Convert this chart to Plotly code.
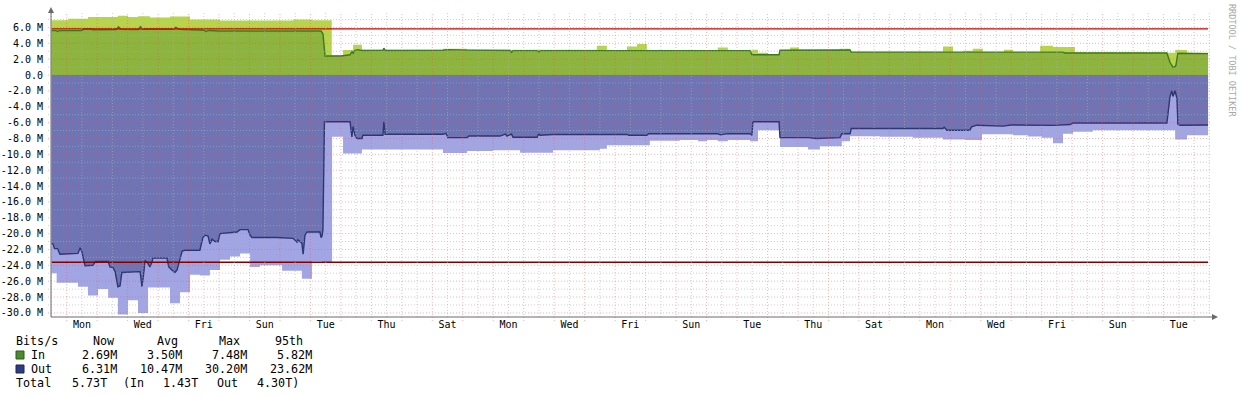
import plotly.graph_objects as go

# ---------------- data (time = days since the first Monday 00:00) ----------------
in_max_t = [-0.50, 0.04, 0.70, 1.68, 2.01, 2.34, 2.73, 3.39, 4.05, 5.03, 7.43, 8.05, 8.70, 9.07,
            9.40, 9.69, 12.35, 13.14, 17.40, 17.73, 18.39, 18.72, 19.04, 21.37, 21.70, 22.43,
            22.52, 22.69, 23.01, 23.41, 23.74, 24.03, 25.38, 25.71, 28.76, 29.09, 29.41, 29.74,
            30.07, 30.76, 31.06, 31.95, 32.37, 33.09, 36.11, 36.38, 36.77, 37.46]
in_max_v = [6.92, 7.09, 7.30, 7.48, 7.30, 7.42, 7.25, 7.38, 7.00, 6.87, 7.00, 6.90, 2.50, 3.16,
            3.80, 3.20, 3.30, 3.18, 3.70, 3.15, 3.58, 3.90, 3.12, 3.46, 3.12, 3.10,
            3.20, 2.80, 2.58, 3.16, 3.46, 3.18, 3.30, 2.92, 3.58, 2.90, 3.05, 3.30,
            2.88, 3.20, 2.90, 3.70, 3.54, 2.88, 2.80, 3.16, 2.82, 2.82]

in_avg_t = [-0.50, -0.35, -0.30, -0.25, 0.50, 0.56, 0.80, 0.86, 1.62, 1.70, 1.78, 2.36, 2.42,
            2.50, 3.50, 3.58, 3.70, 4.50, 4.56, 4.66, 5.03, 8.35, 8.41, 8.48, 9.00, 9.30, 9.36,
            9.40, 9.46, 9.53, 9.69, 10.38, 10.41, 10.45, 12.35, 12.50, 13.14, 14.55, 14.60,
            14.65, 15.44, 15.50, 15.56, 22.43, 22.49, 23.38, 23.41, 25.71, 25.75, 28.43, 28.76,
            30.30, 31.51, 32.70, 32.76, 36.11, 36.21, 36.31, 36.40, 36.47, 37.46]
in_avg_v = [5.60, 5.60, 5.50, 5.60, 5.62, 5.82, 5.80, 5.70, 5.72, 6.08, 5.75, 5.72, 6.10,
            5.78, 5.78, 6.02, 5.75, 5.65, 5.50, 5.62, 5.55, 5.55, 5.20, 2.40, 2.40, 2.55, 2.95,
            2.75, 3.10, 3.20, 3.10, 3.12, 3.38, 3.10, 3.12, 3.20, 3.14, 3.10, 2.85,
            3.08, 3.08, 2.90, 3.08, 3.08, 2.55, 2.55, 3.12, 3.15, 2.88, 2.88, 2.85,
            2.80, 2.88, 2.88, 2.78, 2.78, 1.60, 1.00, 1.10, 2.75, 2.70]

out_max_t = [-0.50, -0.33, 0.37, 0.70, 1.03, 1.36, 1.68, 2.01, 2.34, 2.67, 3.39, 3.72, 4.05,
             4.37, 4.70, 5.03, 5.36, 5.69, 6.02, 6.34, 7.07, 7.72, 8.05, 8.38, 8.71, 9.07,
             9.69, 12.35, 13.14, 13.99, 14.88, 15.96, 17.50, 17.73, 19.14, 20.13, 20.72, 21.01,
             21.37, 21.70, 22.43, 22.69, 23.41, 24.33, 24.72, 25.44, 25.71, 26.69, 27.77, 28.76,
             29.48, 30.04, 31.06, 31.55, 32.01, 32.37, 32.70, 33.03, 33.68, 36.38, 36.77, 37.46]
out_max_v = [25.0, 26.2, 26.7, 27.8, 27.0, 28.1, 30.2, 28.4, 30.0, 26.8, 28.8, 27.4, 25.2,
             25.3, 24.6, 23.3, 22.9, 22.5, 24.2, 24.0, 24.7, 25.7, 23.5, 23.7, 7.8, 9.9,
             9.4, 9.83, 9.6, 9.5, 9.8, 9.5, 9.3, 8.86, 8.3, 8.2, 8.35, 8.2,
             8.35, 8.2, 8.35, 6.96, 9.07, 9.4, 9.0, 8.35, 7.72, 7.8, 7.9, 8.14,
             8.2, 7.47, 7.6, 7.75, 7.9, 8.6, 7.4, 7.17, 6.96, 8.14, 7.6, 7.6]

out_avg_t = [-0.50, -0.45, -0.40, -0.30, -0.22, 0.37, 0.44, 0.50, 0.60, 0.86,
             0.95, 1.36, 1.42, 1.52, 1.59, 1.68, 1.75, 1.81, 2.41, 2.47,
             2.53, 2.57, 2.64, 2.73, 2.80, 2.83, 3.29, 3.35, 3.45, 3.55,
             3.62, 3.70, 3.79, 3.88, 4.37, 4.47, 4.54, 4.64, 4.70, 4.77,
             4.87, 4.97, 5.03, 5.59, 5.69, 5.95, 6.02, 6.08, 6.90, 7.43,
             7.56, 7.59, 7.72, 7.76, 7.82, 7.89, 8.31, 8.35, 8.38, 8.41,
             8.46, 9.30, 9.36, 9.40, 9.46, 9.53, 9.69, 9.72, 10.38, 10.41,
             10.45, 12.35, 12.45, 12.51, 13.14, 13.20, 14.22, 14.40, 14.45, 14.60,
             14.65, 15.44, 15.50, 15.53, 15.96, 18.39, 18.45, 19.04, 19.10, 21.37,
             21.45, 21.70, 22.43, 22.49, 22.52, 23.38, 23.41, 24.33, 24.60, 25.38,
             25.44, 25.71, 25.75, 28.76, 28.80, 28.89, 29.64, 29.70, 29.87, 30.73,
             31.00, 32.37, 32.93, 33.03, 36.11, 36.21, 36.27, 36.31, 36.38, 36.44,
             36.47, 36.55, 37.46]
out_avg_v = [21.3, 21.3, 21.9, 21.9, 22.6, 22.5, 21.8, 22.3, 24.05, 24.0,
             23.5, 23.5, 24.2, 24.3, 24.8, 26.7, 26.6, 24.9, 24.8, 26.7,
             25.0, 23.4, 23.6, 24.2, 23.6, 23.1, 23.1, 24.2, 24.6, 24.9,
             24.6, 23.4, 22.2, 22.1, 22.1, 20.5, 20.2, 20.3, 21.3, 20.7,
             21.0, 21.0, 20.0, 19.8, 19.5, 19.5, 20.2, 20.5, 20.5, 20.6,
             21.1, 20.8, 21.2, 22.6, 20.2, 19.8, 19.8, 20.5, 20.3, 19.5,
             5.9, 5.9, 7.8, 6.5, 7.6, 8.0, 8.0, 7.6, 7.6, 5.9,
             7.47, 7.47, 7.35, 7.9, 7.9, 7.7, 7.7, 7.45, 7.7, 7.45,
             7.85, 7.85, 7.35, 7.6, 7.5, 7.5, 7.6, 7.6, 7.4, 7.4,
             7.55, 7.4, 7.4, 7.6, 5.9, 5.9, 7.9, 7.9, 8.0, 7.9,
             7.4, 7.4, 6.75, 6.75, 6.6, 6.96, 6.96, 6.55, 6.33, 6.45,
             6.3, 6.35, 6.25, 6.05, 6.05, 2.75, 2.0, 2.7, 2.0, 3.0,
             6.2, 6.33, 6.31]

in_p95 = 5.82
out_p95 = 23.62
period = [-0.50, 37.46]

day_labels = ["Mon", "Wed", "Fri", "Sun", "Tue", "Thu", "Sat", "Mon", "Wed", "Fri",
              "Sun", "Tue", "Thu", "Sat", "Mon", "Wed", "Fri", "Sun", "Tue"]
y_ticks = list(range(-30, 7, 2))
y_tick_text = ["0.0" if v == 0 else f"{v:.1f} M" for v in y_ticks]

legend_header = ["Bits/s", "Now", "Avg", "Max", "95th"]
in_stats = ["2.69M", "3.50M", "7.48M", "5.82M"]
out_stats = ["6.31M", "10.47M", "30.20M", "23.62M"]
total_parts = ["Total", "5.73T", "(In", "1.43T", "Out", "4.30T)"]

# ---------------- styling ----------------
W, H = 1240, 397
PL, PR, PT, PB = 51, 1212, 13, 317
X_RANGE = [-0.515, 37.59]
Y_RANGE = [-30.52, 7.82]
MONO = "DejaVu Sans Mono"

C_IN_MAX = "#b8d44e"
C_IN_AVG = "#8db43e"
C_IN_LINE = "#3b7a1c"
C_OUT_MAX = "#a2a5e4"
C_OUT_AVG = "#6e74b4"
C_OUT_LINE = "#2c3673"
C_P95_IN = "#cc0000"
C_P95_OUT = "#800000"
C_AXIS = "#6a6a6a"
C_MGRID = "rgba(255,70,70,0.42)"
C_GRID = "rgba(175,175,175,0.6)"


def fx(p):
    return (p - PL) / (PR - PL)


def fy(p):
    return (PB - p) / (PB - PT)


fig = go.Figure()
fig.add_trace(go.Scatter(x=in_max_t, y=in_max_v, mode="lines",
                         line=dict(shape="hv", width=0, color=C_IN_MAX),
                         fill="tozeroy", fillcolor=C_IN_MAX, hoverinfo="skip"))
fig.add_trace(go.Scatter(x=out_max_t, y=[-v for v in out_max_v], mode="lines",
                         line=dict(shape="hv", width=0, color=C_OUT_MAX),
                         fill="tozeroy", fillcolor=C_OUT_MAX, hoverinfo="skip"))
fig.add_trace(go.Scatter(x=in_avg_t, y=in_avg_v, mode="lines",
                         line=dict(width=1.4, color=C_IN_LINE),
                         fill="tozeroy", fillcolor=C_IN_AVG, hoverinfo="skip"))
fig.add_trace(go.Scatter(x=out_avg_t, y=[-v for v in out_avg_v], mode="lines",
                         line=dict(width=1.4, color=C_OUT_LINE),
                         fill="tozeroy", fillcolor=C_OUT_AVG, hoverinfo="skip"))
fig.add_trace(go.Scatter(x=period, y=[in_p95, in_p95], mode="lines",
                         line=dict(width=1.4, color=C_P95_IN), hoverinfo="skip"))
fig.add_trace(go.Scatter(x=period, y=[-out_p95, -out_p95], mode="lines",
                         line=dict(width=1.4, color=C_P95_OUT), hoverinfo="skip"))

shapes = []
# vertical grid: minor every 12 h, major at midnight
k = int(X_RANGE[0] * 2) - 1
while k / 2 <= X_RANGE[1]:
    t = k / 2
    if t >= X_RANGE[0]:
        major = (k % 2 == 0)
        shapes.append(dict(type="line", xref="x", yref="paper", x0=t, x1=t,
                           y0=(-4 / (PB - PT)) if major else 0, y1=1, layer="above",
                           line=dict(color=C_MGRID if major else C_GRID, width=1,
                                     dash="1px,2px")))
    k += 1
# horizontal grid: minor every 1 M, major every 2 M
for v in range(-30, 8):
    major = (v % 2 == 0)
    shapes.append(dict(type="line", xref="paper", yref="y", x0=-3 / (PR - PL), x1=1,
                       y0=v, y1=v, layer="above",
                       line=dict(color=C_MGRID if major else C_GRID, width=1,
                                 dash="1px,2px")))
# axes with arrows
shapes.append(dict(type="line", xref="paper", yref="paper", x0=0, x1=fx(1214), y0=0, y1=0,
                   layer="above", line=dict(color=C_AXIS, width=1)))
shapes.append(dict(type="line", xref="paper", yref="paper", x0=0, x1=0, y0=0, y1=fy(10),
                   layer="above", line=dict(color=C_AXIS, width=1)))
shapes.append(dict(type="path", xref="paper", yref="paper", layer="above",
                   path=f"M {fx(48)},{fy(13)} L {fx(54)},{fy(13)} L {fx(51)},{fy(7)} Z",
                   fillcolor=C_AXIS, line=dict(width=0)))
shapes.append(dict(type="path", xref="paper", yref="paper", layer="above",
                   path=f"M {fx(1212)},{fy(314)} L {fx(1212)},{fy(320)} L {fx(1218)},{fy(317)} Z",
                   fillcolor=C_AXIS, line=dict(width=0)))
# legend swatches
shapes.append(dict(type="rect", xref="paper", yref="paper", x0=fx(16), x1=fx(24),
                   y0=fy(359), y1=fy(351), fillcolor="#4d8a2b",
                   line=dict(color="#2f5a18", width=1)))
shapes.append(dict(type="rect", xref="paper", yref="paper", x0=fx(16), x1=fx(24),
                   y0=fy(373), y1=fy(365), fillcolor="#2f3c84",
                   line=dict(color="#1d2658", width=1)))

# ---------------- legend text ----------------
LEG_FONT = dict(family=MONO, size=11.7, color="#000000")
row_y = [341, 355, 369, 383]
header_x = [16, 93, 157, 219, 275]
value_right = [116.7, 181.7, 246.7, 311.7]
total_x = [16, 71.7, 123, 163, 217, 257]

annotations = []


def add_text(text, xpx, ypx, anchor="left", font=LEG_FONT):
    annotations.append(dict(text=text, xref="paper", yref="paper", x=fx(xpx), y=fy(ypx),
                            xanchor=anchor, yanchor="middle", showarrow=False,
                            font=font, borderpad=0, borderwidth=0))


for txt, xp in zip(legend_header, header_x):
    add_text(txt, xp, row_y[0])
add_text("In", 30.7, row_y[1])
add_text("Out", 30.7, row_y[2])
for txt, xr in zip(in_stats, value_right):
    add_text(txt, xr, row_y[1], anchor="right")
for txt, xr in zip(out_stats, value_right):
    add_text(txt, xr, row_y[2], anchor="right")
for txt, xp in zip(total_parts, total_x):
    add_text(txt, xp, row_y[3])

annotations.append(dict(text="RRDTOOL / TOBI OETIKER", xref="paper", yref="paper",
                        x=fx(1232), y=fy(60), xanchor="center", yanchor="middle",
                        textangle=90, showarrow=False,
                        font=dict(family=MONO, size=8.5, color="#a8a8a8")))

fig.update_layout(
    width=W, height=H,
    margin=dict(l=PL, r=W - PR, t=PT, b=H - PB, pad=0),
    paper_bgcolor="#ffffff", plot_bgcolor="#ffffff",
    showlegend=False,
    shapes=shapes, annotations=annotations,
    xaxis=dict(range=X_RANGE, showgrid=False, zeroline=False, showline=False,
               tickmode="array", tickvals=[0.5 + 2 * i for i in range(len(day_labels))],
               ticktext=day_labels, ticks="", tickfont=dict(family=MONO, size=10, color="#000"),
               automargin=False, fixedrange=True),
    yaxis=dict(range=Y_RANGE, showgrid=False, zeroline=False, showline=False,
               tickmode="array", tickvals=y_ticks, ticktext=y_tick_text,
               ticks="outside", ticklen=5, tickcolor="rgba(0,0,0,0)",
               tickfont=dict(family=MONO, size=10, color="#000"),
               automargin=False, fixedrange=True),
)

# remove the browser's default page margin so the figure sits at the window origin
fig.write_html("out.html", config={"displayModeBar": False},
               post_script="document.body.style.margin='0';document.body.style.overflow='hidden';")
